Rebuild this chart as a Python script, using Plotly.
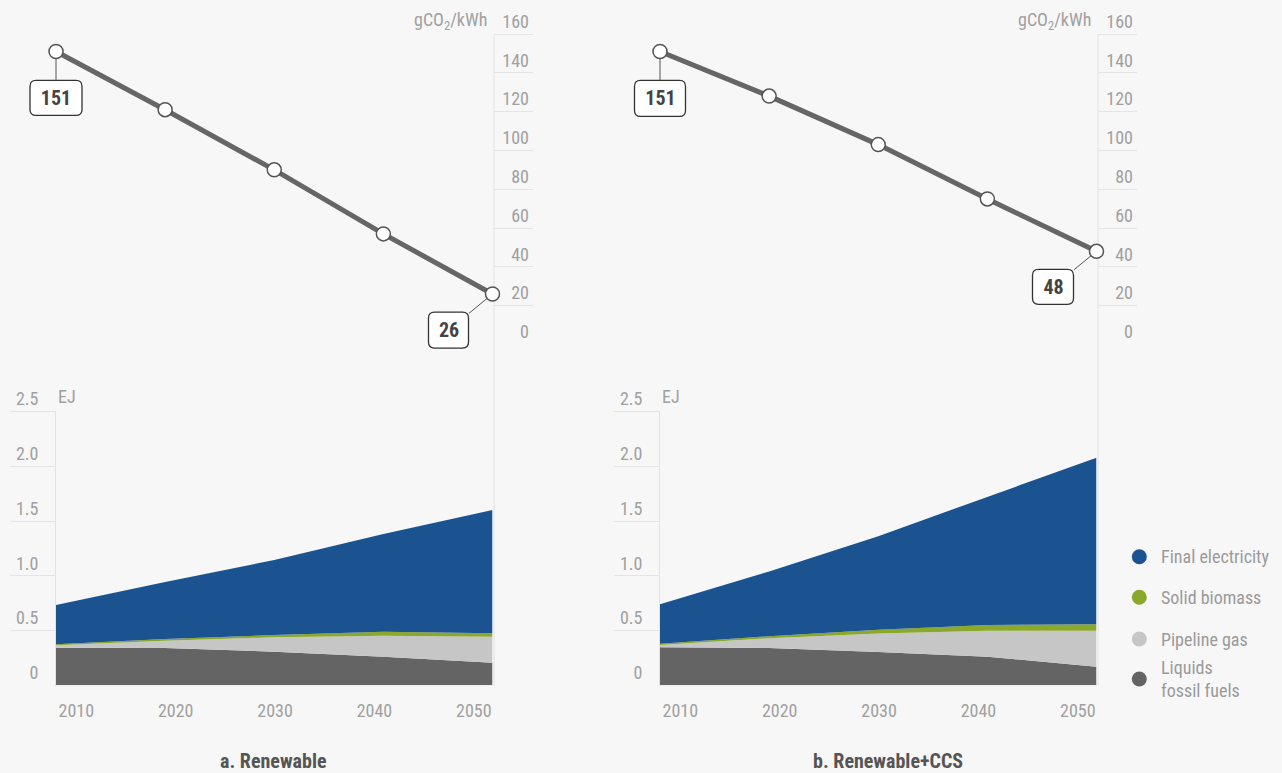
import plotly.graph_objects as go

# ---------------- data ----------------
years = [2010, 2020, 2030, 2040, 2050]
panel_titles = ["a. Renewable", "b. Renewable+CCS"]

# carbon intensity of electricity (gCO2/kWh)
ci_renew = [151, 121, 90, 57, 26]
ci_ccs = [151, 128, 103, 75, 48]

# final energy (EJ), stacked bottom -> top
series_names = ["Liquids<br>fossil fuels", "Pipeline gas", "Solid biomass", "Final electricity"]
series_colors = ["#646464", "#c6c6c6", "#8aa82b", "#1b5391"]

liquids_renew = [0.344, 0.341, 0.307, 0.261, 0.207]
gas_renew = [0.022, 0.067, 0.132, 0.192, 0.237]
biomass_renew = [0.009, 0.015, 0.021, 0.037, 0.031]
elec_renew = [0.359, 0.521, 0.685, 0.893, 1.127]

liquids_ccs = [0.347, 0.341, 0.305, 0.261, 0.170]
gas_ccs = [0.021, 0.089, 0.168, 0.238, 0.329]
biomass_ccs = [0.012, 0.018, 0.035, 0.052, 0.058]
elec_ccs = [0.360, 0.592, 0.855, 1.173, 1.523]

ci_ticks = [0, 20, 40, 60, 80, 100, 120, 140, 160]
ej_ticks = [0, 0.5, 1.0, 1.5, 2.0, 2.5]
ej_ticktext = ["0", "0.5", "1.0", "1.5", "2.0", "2.5"]

# ---------------- styling ----------------
W, H = 1282, 773
FONT = "Roboto Condensed, Liberation Sans Narrow, Arial Narrow, DejaVu Sans Condensed, sans-serif"
BG = "#f7f7f7"
TICK_COL = "#a0a0a0"
GRID_COL = "#e4e4e4"


def px(x):
    return x / W


def py(y):
    return 1 - y / H


def xspan(v0, p0, v1, p1, d0, d1):
    """domain (paper) and range so that value v0 sits at pixel p0, v1 at p1,
    with the axis domain spanning pixels d0..d1 (horizontal)."""
    s = (p1 - p0) / (v1 - v0)
    return [px(d0), px(d1)], [v0 + (d0 - p0) / s, v0 + (d1 - p0) / s]


def yspan(v0, p0, v1, p1, d_bot, d_top):
    """same for vertical axes; pixels measured from the top."""
    s = (p0 - p1) / (v1 - v0)
    return [py(d_bot), py(d_top)], [v0 - (d_bot - p0) / s, v0 + (p0 - d_top) / s]


fig = go.Figure()
layout = dict(
    width=W, height=H, margin=dict(l=0, r=0, t=0, b=0),
    paper_bgcolor=BG, plot_bgcolor="rgba(0,0,0,0)",
    showlegend=False, font=dict(family=FONT, size=18, color=TICK_COL),
)
shapes = []
annotations = []


def rounded_rect(cx, cy, w, h, r):
    l, rt = cx - w / 2, cx + w / 2
    t, b = cy + h / 2, cy - h / 2
    return (f"M {l + r},{t} L {rt - r},{t} Q {rt},{t} {rt},{t - r} "
            f"L {rt},{b + r} Q {rt},{b} {rt - r},{b} L {l + r},{b} "
            f"Q {l},{b} {l},{b + r} L {l},{t - r} Q {l},{t} {l + r},{t} Z")


def axname(prefix, n):
    return prefix + ("" if n == 1 else str(n))


def placeholder(xn, yn):
    # empty trace so that an axis pair without data is still drawn
    fig.add_trace(go.Scatter(x=[None], y=[None], mode="markers", hoverinfo="skip",
                             showlegend=False, xaxis=axname("x", xn), yaxis=axname("y", yn)))


panels = [
    dict(ci=ci_renew, stacks=[liquids_renew, gas_renew, biomass_renew, elec_renew],
         off=0, title_x=273.5,
         callouts=[(0, 0, 46.5, 52, 35), (-1, -44, 36, 40, 36)]),
    dict(ci=ci_ccs, stacks=[liquids_ccs, gas_ccs, biomass_ccs, elec_ccs],
         off=604, title_x=888,
         callouts=[(0, 0, 47, 51, 36), (-1, -43.5, 35.5, 41, 35)]),
]

# pixel anchors
X0P, X1P = 56, 492.5          # 2010 / 2050
TOP0, TOP160 = 344.5, 34      # 0 / 160 gCO2/kWh
BOT0, BOT25 = 685.3, 411.7    # 0 / 2.5 EJ

for i, p in enumerate(panels):
    o = p["off"]
    n = 1 + 5 * i
    xl, xgt, xa, xgb, xt = n, n + 1, n + 2, n + 3, n + 4
    yl, ygt, ya, ygb = n, n + 1, n + 2, n + 3

    # --- top line chart (plot area widened so markers & callouts are not clipped) ---
    fig.add_trace(go.Scatter(
        x=years, y=p["ci"], mode="lines+markers",
        line=dict(color="#666666", width=5),
        marker=dict(size=14, color="white", line=dict(color="#555555", width=1.5)),
        xaxis=axname("x", xl), yaxis=axname("y", yl), hoverinfo="x+y",
    ))
    dom, rng = xspan(2010, X0P + o, 2050, X1P + o, 16 + o, 536 + o)
    layout[axname("xaxis", xl)] = dict(domain=dom, range=rng, visible=False,
                                       anchor=axname("y", yl))
    dom, rng = yspan(0, TOP0, 160, TOP160, 362, 2)
    layout[axname("yaxis", yl)] = dict(domain=dom, range=rng, visible=False,
                                       anchor=axname("x", xl))
    # top grid strip with tick labels
    placeholder(xgt, ygt)
    layout[axname("xaxis", xgt)] = dict(domain=[px(494 + o), px(533 + o)], range=[0, 1],
                                        showticklabels=False, showgrid=False, zeroline=False,
                                        showline=False, ticks="", anchor=axname("y", ygt))
    dom, rng = yspan(0, TOP0, 160, TOP160, TOP0, 3)
    layout[axname("yaxis", ygt)] = dict(domain=dom, range=rng, anchor=axname("x", xgt),
                                        side="right", ticklabelposition="inside top",
                                        tickvals=ci_ticks, showgrid=True, gridcolor=GRID_COL,
                                        gridwidth=1, zeroline=False, showline=False, ticks="",
                                        ticklabelstandoff=1,
                                        tickfont=dict(family=FONT, size=18, color=TICK_COL))

    # --- bottom stacked area ---
    for name, vals, col in zip(series_names, p["stacks"], series_colors):
        fig.add_trace(go.Scatter(
            x=years, y=vals, mode="lines", stackgroup=f"s{i}", name=name.replace("<br>", " "),
            line=dict(width=0, color=col), fillcolor=col,
            xaxis=axname("x", xa), yaxis=axname("y", ya),
        ))
    layout[axname("xaxis", xa)] = dict(domain=[px(X0P + o), px(X1P + o)], range=[2010, 2050],
                                       showgrid=False, showticklabels=False, zeroline=False,
                                       showline=False, ticks="", anchor=axname("y", ya))
    layout[axname("yaxis", ya)] = dict(domain=[py(BOT0), py(BOT25)], range=[0, 2.5],
                                       visible=False, anchor=axname("x", xa))
    placeholder(xgb, ygb)
    layout[axname("xaxis", xgb)] = dict(domain=[px(10 + o), px(55.5 + o)], range=[0, 1],
                                        showticklabels=False, showgrid=False, zeroline=False,
                                        showline=False, ticks="", anchor=axname("y", ygb))
    dom, rng = yspan(0, BOT0, 2.5, BOT25, BOT0, 380)
    layout[axname("yaxis", ygb)] = dict(domain=dom, range=rng, anchor=axname("x", xgb),
                                        side="right", ticklabelposition="inside top",
                                        tickvals=ej_ticks, ticktext=ej_ticktext,
                                        showgrid=True, gridcolor=GRID_COL, gridwidth=1,
                                        zeroline=False, showline=False, ticks="",
                                        ticklabelstandoff=14,
                                        tickfont=dict(family=FONT, size=18, color=TICK_COL))
    # year labels (spread evenly under the panel)
    placeholder(xt, ya)
    layout[axname("xaxis", xt)] = dict(overlaying=axname("x", xa), anchor=axname("y", ya),
                                       range=[2007.96, 2051.88], tickvals=years, side="bottom",
                                       showgrid=False, zeroline=False, showline=False, ticks="",
                                       ticklabelstandoff=13,
                                       tickfont=dict(family=FONT, size=18, color=TICK_COL))

    # --- guide lines ---
    shapes.append(dict(type="line", xref="paper", yref="paper",
                       x0=px(494 + o), x1=px(494 + o), y0=py(34), y1=py(686),
                       line=dict(color="#e2e2e2", width=1), layer="below"))
    shapes.append(dict(type="line", xref="paper", yref="paper",
                       x0=px(55.5 + o), x1=px(55.5 + o), y0=py(411), y1=py(686),
                       line=dict(color="#e2e2e2", width=1), layer="below"))

    # --- unit labels ---
    annotations.append(dict(text="gCO<sub>2</sub>/kWh", xref="paper", yref="paper",
                            x=px(489 + o), y=py(21), xanchor="right", yanchor="middle",
                            showarrow=False, font=dict(family=FONT, size=18, color=TICK_COL)))
    annotations.append(dict(text="EJ", xref="paper", yref="paper",
                            x=px(56 + o), y=py(396), xanchor="left", yanchor="middle",
                            showarrow=False, font=dict(family=FONT, size=18, color=TICK_COL)))
    # --- panel title ---
    annotations.append(dict(text=f"<b>{panel_titles[i]}</b>", xref="paper", yref="paper",
                            x=px(p["title_x"]), y=py(761), xanchor="center", yanchor="middle",
                            showarrow=False, font=dict(family=FONT, size=20, color="#555555")))

    # --- callouts for first / last values ---
    for idx, dx, dy, bw, bh in p["callouts"]:
        xv, yv = years[idx], p["ci"][idx]
        shapes.append(dict(type="path", xref=axname("x", xl), yref=axname("y", yl),
                           xsizemode="pixel", ysizemode="pixel", xanchor=xv, yanchor=yv,
                           path=rounded_rect(dx, -dy, bw, bh, 6),
                           fillcolor="white", line=dict(color="#333333", width=1.3),
                           layer="above"))
        annotations.append(dict(text=f"<b>{yv}</b>", xref=axname("x", xl), yref=axname("y", yl),
                                x=xv, y=yv, ax=dx, ay=dy, axref="pixel", ayref="pixel",
                                showarrow=True, arrowhead=0, arrowwidth=1, arrowcolor="#555555",
                                standoff=7, width=bw, height=bh, borderpad=0,
                                font=dict(family=FONT, size=20, color="#444444")))

# --- legend (top to bottom) ---
legend_y = [556.7, 597.3, 639, 679]
for name, col, yy in zip(series_names[::-1], series_colors[::-1], legend_y):
    shapes.append(dict(type="circle", xref="paper", yref="paper", xsizemode="pixel",
                       ysizemode="pixel", xanchor=px(1139.3), yanchor=py(yy),
                       x0=-7.5, x1=7.5, y0=-7.5, y1=7.5, fillcolor=col, line=dict(width=0)))
    annotations.append(dict(text=name, xref="paper", yref="paper", x=px(1159), y=py(yy),
                            xanchor="left", yanchor="middle", align="left", showarrow=False,
                            font=dict(family=FONT, size=18, color="#9a9a9a")))

layout["shapes"] = shapes
layout["annotations"] = annotations
fig.update_layout(**layout)
fig.write_html("out.html", config={"displayModeBar": False},
               post_script="document.body.style.margin='0';document.body.style.padding='0';")
